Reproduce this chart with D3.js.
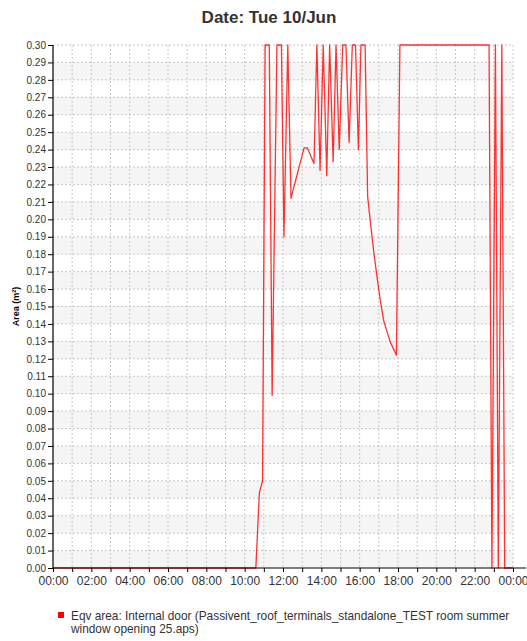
<!DOCTYPE html>
<html>
<head>
<meta charset="utf-8">
<script src="https://cdn.jsdelivr.net/npm/d3@7"></script>
<style>
  body { margin: 0; background: #fff; font-family: "Liberation Sans", Arial, sans-serif; }
  .grid line { stroke: #c8c8c8; stroke-dasharray: 2,2; }
</style>
</head>
<body>
<script>
var width = 527,
    height = 641,
    margin = {top: 45, right: 14, bottom: 73, left: 53},
    plotW = 460,
    plotH = 523;

// time of day (HH:MM) and equivalent area (m²)
var times = ["00:00", "10:35", "10:46", "10:56", "11:04", "11:17", "11:26", "11:41", "11:55", "12:03",
             "12:15", "12:25", "13:06", "13:16", "13:37", "13:46", "13:56", "14:06", "14:17", "14:26",
             "14:37", "14:46", "14:56", "15:07", "15:17", "15:27", "15:37", "15:47", "15:56", "16:04",
             "16:17", "16:25", "16:35", "16:45", "16:55", "17:05", "17:15", "17:25", "17:35", "17:45",
             "17:55", "18:06", "22:45", "22:54", "23:05", "23:14", "23:25", "23:34", "24:00"];
var areas = [0, 0, 0.043, 0.050, 0.30, 0.30, 0.099, 0.30, 0.30, 0.190,
             0.30, 0.212, 0.241, 0.241, 0.232, 0.30, 0.228, 0.30, 0.225, 0.30,
             0.233, 0.30, 0.240, 0.30, 0.30, 0.244, 0.30, 0.30, 0.240, 0.30,
             0.30, 0.213, 0.196, 0.180, 0.166, 0.153, 0.142, 0.136, 0.130, 0.126,
             0.122, 0.30, 0.30, 0, 0.30, 0, 0.30, 0, 0];

var yTicks = d3.range(0, 31).map(function(i) { return i / 100; });
var seriesName = "Eqv area: Internal door (Passivent_roof_terminals_standalone_TEST room summer";
var seriesName2 = "window opening 25.aps)";

function toMinutes(s) {
    var p = s.split(":");
    return +p[0] * 60 + +p[1];
}

var data = times.map(function(t, i) { return {t: toMinutes(t), v: areas[i]}; });

var x = d3.scaleLinear().domain([0, 1440]).range([0, plotW]);
var y = d3.scaleLinear().domain([0, 0.30]).range([plotH, 0]);

var svg = d3.select("body").append("svg")
    .attr("width", width)
    .attr("height", height);

svg.append("text")
    .attr("x", 269)
    .attr("y", 23)
    .attr("text-anchor", "middle")
    .style("font-size", "17px")
    .style("font-weight", "bold")
    .style("fill", "#333")
    .text("Date: Tue 10/Jun");

var g = svg.append("g")
    .attr("transform", "translate(" + margin.left + "," + margin.top + ")");

// alternating bands
g.append("g").selectAll("rect")
    .data(yTicks.filter(function(d, i) { return i % 2 === 1; }))
    .enter().append("rect")
    .attr("x", 0)
    .attr("width", plotW)
    .attr("y", function(d) { return y(d); })
    .attr("height", function(d) { return y(d - 0.01) - y(d); })
    .style("fill", "#f5f5f5");

// grid
g.append("g").attr("class", "grid")
    .selectAll("line")
    .data(yTicks.slice(1))
    .enter().append("line")
    .attr("x1", 0).attr("x2", plotW)
    .attr("y1", function(d) { return y(d); })
    .attr("y2", function(d) { return y(d); });

g.append("g").attr("class", "grid")
    .selectAll("line")
    .data(d3.range(60, 1441, 60))
    .enter().append("line")
    .attr("y1", 0).attr("y2", plotH)
    .attr("x1", function(d) { return x(d); })
    .attr("x2", function(d) { return x(d); });

// series
var line = d3.line()
    .x(function(d) { return x(d.t); })
    .y(function(d) { return y(d.v); });

g.append("path")
    .datum(data)
    .attr("d", line)
    .style("fill", "none")
    .style("stroke", "#ff0000")
    .style("stroke-width", 1.3)
    .style("stroke-opacity", 0.8)
    .style("stroke-linejoin", "round");

// axes
var yAxis = g.append("g")
    .call(d3.axisLeft(y).tickValues(yTicks).tickSize(5).tickPadding(2).tickFormat(d3.format(".2f")));
yAxis.select(".domain").attr("d", "M0,0V" + plotH).style("stroke", "#000").style("stroke-width", 1.2);
yAxis.selectAll("text").style("font-size", "10px").style("fill", "#333")
    .style("font-family", "'Liberation Sans', Arial, sans-serif");

var xAxis = g.append("g")
    .attr("transform", "translate(0," + plotH + ")")
    .call(d3.axisBottom(x).tickValues(d3.range(0, 1441, 60)).tickSize(4).tickPadding(4)
        .tickFormat(function(d) {
            if (d % 120 !== 0) return "";
            return d3.format("02d")((d / 60) % 24) + ":00";
        }));
xAxis.select(".domain").attr("d", "M0,0H" + (plotW + 13)).style("stroke", "#000").style("stroke-width", 1.2);
xAxis.selectAll("text").style("font-size", "12px").style("fill", "#333")
    .style("font-family", "'Liberation Sans', Arial, sans-serif");

svg.append("text")
    .attr("transform", "translate(19," + (margin.top + plotH / 2) + ")rotate(-90)")
    .attr("text-anchor", "middle")
    .style("font-size", "9px")
    .style("font-weight", "bold")
    .style("fill", "#000")
    .text("Area (m²)");

// legend
svg.append("rect")
    .attr("x", 58).attr("y", 612)
    .attr("width", 6).attr("height", 6)
    .style("fill", "#ff0000");

svg.append("text")
    .attr("x", 71).attr("y", 620)
    .style("font-size", "11.85px")
    .style("fill", "#333")
    .text(seriesName);

svg.append("text")
    .attr("x", 71).attr("y", 633)
    .style("font-size", "11.85px")
    .style("fill", "#333")
    .text(seriesName2);
</script>
</body>
</html>
